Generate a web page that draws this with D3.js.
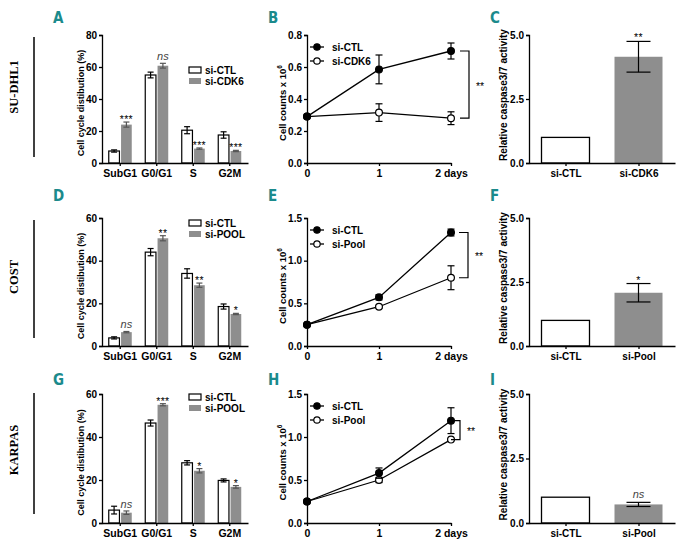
<!DOCTYPE html>
<html><head><meta charset="utf-8">
<script src="https://cdn.jsdelivr.net/npm/d3@7"></script>
<style>
body{margin:0;background:#fff;}
svg text{font-family:"Liberation Sans",Arial,sans-serif;}
</style></head>
<body><svg id="c" width="684" height="546"></svg>
<script>
// ---------- DATA ----------
const cycleCats = ["SubG1","G0/G1","S","G2M"];
const aLegend = ["si-CTL","si-CDK6"];
const aCtl = [7.5,55,20.5,17.5], aCtlErr = [0.7,1.8,2.2,2];
const aKd  = [24,60.8,9,7.5],    aKdErr  = [1.6,1.5,0.4,0.4];
const aSig = ["***","ns","***","***"];
const aTicks = [0,20,40,60,80];

const dLegend = ["si-CTL","si-POOL"];
const dCtl = [3.8,44,34,18.5],  dCtlErr = [0.5,1.7,2.2,1.2];
const dKd  = [6.5,50.5,28.5,15], dKdErr = [0.3,1.2,1,0.3];
const dSig = ["ns","**","**","*"];
const dTicks = [0,20,40,60];

const gLegend = ["si-CTL","si-POOL"];
const gCtl = [6,46.5,28,19.8],  gCtlErr = [1.8,1.4,1,0.7];
const gKd  = [4.8,55,24.3,16.8], gKdErr = [0.8,0.5,1,0.6];
const gSig = ["ns","***","*","*"];
const gTicks = [0,20,40,60];

const days = [0,1,2];
const dayLabels = ["0","1","2 days"];
const bLegend = ["si-CTL","si-CDK6"];
const bCtl = [0.29,0.585,0.70], bCtlErr = [0,0.09,0.05];
const bKd  = [0.29,0.315,0.28], bKdErr  = [0,0.055,0.04];
const bTicks = [0,0.2,0.4,0.6,0.8];
const eLegend = ["si-CTL","si-Pool"];
const eCtl = [0.25,0.57,1.33], eCtlErr = [0,0.03,0.04];
const eKd  = [0.25,0.46,0.80], eKdErr  = [0,0.015,0.14];
const eTicks = [0,0.5,1.0,1.5];
const hLegend = ["si-CTL","si-Pool"];
const hCtl = [0.25,0.58,1.19], hCtlErr = [0,0.06,0.15];
const hKd  = [0.25,0.50,0.97], hKdErr  = [0,0.03,0.01];
const hTicks = [0,0.5,1.0,1.5];

const cCats = ["si-CTL","si-CDK6"], cVals = [1,4.15], cErr = [0,0.6], cSig = "**";
const fCats = ["si-CTL","si-Pool"], fVals = [1,2.08], fErr = [0,0.36], fSig = "*";
const iCats = ["si-CTL","si-Pool"], iVals = [1,0.72], iErr = [0,0.08], iSig = "ns";
const casTicks = [0,2.5,5.0];

const rowLabels = ["SU-DHL1","COST","KARPAS"];
const panelLetters = ["A","B","C","D","E","F","G","H","I"];

// ---------- LAYOUT ----------
const svg = d3.select("#c");
svg.append("rect").attr("width",684).attr("height",546).attr("fill","#fff");
const rows = [ {top:35,bot:163}, {top:218,bot:346}, {top:394,bot:523} ];
const GRAY = "#8e8e8e", TEAL = "#1b8a8c";
const FS = 10;

function styleAxis(g){
  g.selectAll("path,line").attr("stroke","#000").attr("stroke-width",1.3);
  g.selectAll("text").attr("fill","#000").attr("font-weight","bold").attr("font-size",FS+"px")
   .style("font-family",'"Liberation Sans",Arial,sans-serif');
}
function yTitle(x, yc, txt, fs){
  return svg.append("text").attr("transform",`translate(${x},${yc}) rotate(-90)`)
    .attr("text-anchor","middle").attr("font-size",(fs||9)+"px").attr("font-weight","bold").text(txt);
}
function sigText(x, y, s){
  const t = svg.append("text").attr("x",x).attr("text-anchor","middle");
  if(s==="ns"){ t.attr("y",y-3).attr("font-style","italic").attr("font-size","11px").attr("fill","#444").text("ns"); }
  else { t.attr("y",y+1).attr("font-size","10.5px").attr("fill","#000").attr("letter-spacing","0.3px").text(s); }
}
function errBar(x, v, e, y, cap, color){
  if(e<=0) return;
  const g = svg.append("g").attr("stroke",color).attr("stroke-width",1.2);
  g.append("line").attr("x1",x).attr("x2",x).attr("y1",y(v-e)).attr("y2",y(v+e));
  g.append("line").attr("x1",x-cap/2).attr("x2",x+cap/2).attr("y1",y(v+e)).attr("y2",y(v+e));
  g.append("line").attr("x1",x-cap/2).attr("x2",x+cap/2).attr("y1",y(v-e)).attr("y2",y(v-e));
}

// ---------- CELL CYCLE BAR PANELS ----------
function cyclePanel(r, ctl, ctlErr, kd, kdErr, sig, ticks, legend, legTop){
  const y = d3.scaleLinear().domain([0, ticks[ticks.length-1]]).range([r.bot, r.top]);
  const x = d3.scaleBand().domain(cycleCats).range([102,248]);
  const inner = d3.scaleBand().domain(["ctl","kd"]).range([x.bandwidth()/2-11.5, x.bandwidth()/2+11.5]).paddingInner(0.13);
  cycleCats.forEach((c,i)=>{
    const x0 = x(c)+inner("ctl"), x1 = x(c)+inner("kd"), w = inner.bandwidth();
    svg.append("rect").attr("x",x0).attr("y",y(ctl[i])).attr("width",w).attr("height",y(0)-y(ctl[i]))
      .attr("fill","#fff").attr("stroke","#000").attr("stroke-width",1.2);
    svg.append("rect").attr("x",x1).attr("y",y(kd[i])).attr("width",w).attr("height",y(0)-y(kd[i]))
      .attr("fill",GRAY);
    errBar(x0+w/2, ctl[i], ctlErr[i], y, 6, "#000");
    errBar(x1+w/2, kd[i], kdErr[i], y, 6, "#555");
    sigText(x1+w/2, y(kd[i]+kdErr[i]), sig[i]);
  });
  const ya = svg.append("g").attr("transform","translate(102,0)")
    .call(d3.axisLeft(y).tickValues(ticks).tickSize(3).tickPadding(2).tickFormat(d3.format("d")));
  styleAxis(ya);
  const xa = svg.append("g").attr("transform",`translate(0,${r.bot})`)
    .call(d3.axisBottom(x).tickSize(3).tickPadding(4).tickSizeOuter(0));
  styleAxis(xa); xa.selectAll("text").attr("font-size","10.5px");
  yTitle(84, (r.top+r.bot)/2+4, "Cell cycle distibution (%)", 9);
  // legend
  legend.forEach((l,i)=>{
    const yy = legTop + i*11;
    svg.append("rect").attr("x",189).attr("y",yy-3).attr("width",12).attr("height",6)
      .attr("fill", i===0?"#fff":GRAY).attr("stroke", i===0?"#000":"none").attr("stroke-width",1.2);
    svg.append("text").attr("x",205).attr("y",yy+3.5).attr("font-size","10px").attr("font-weight","bold").text(l);
  });
}

// ---------- GROWTH LINE PANELS ----------
function linePanel(r, ctl, ctlErr, kd, kdErr, ticks, legend, brX){
  const y = d3.scaleLinear().domain([0, ticks[ticks.length-1]]).range([r.bot, r.top]);
  const x = d3.scaleLinear().domain([0,2]).range([307,451]);
  const ya = svg.append("g").attr("transform","translate(307,0)")
    .call(d3.axisLeft(y).tickValues(ticks).tickSize(3).tickPadding(2).tickFormat(d3.format(".1f")));
  styleAxis(ya);
  const xa = svg.append("g").attr("transform",`translate(0,${r.bot})`)
    .call(d3.axisBottom(x).tickValues(days).tickSize(3).tickPadding(4).tickSizeOuter(0).tickFormat((d,i)=>dayLabels[i]));
  styleAxis(xa); xa.selectAll("text").attr("font-size","10.5px");
  const line = d3.line().x((d,i)=>x(days[i])).y(d=>y(d));
  [[kd,kdErr,false],[ctl,ctlErr,true]].forEach(([v,e,filled])=>{
    svg.append("path").attr("d",line(v)).attr("fill","none").attr("stroke","#000").attr("stroke-width",1.3);
    v.forEach((d,i)=>errBar(x(days[i]), d, e[i], y, 7, "#000"));
    v.forEach((d,i)=>svg.append("circle").attr("cx",x(days[i])).attr("cy",y(d)).attr("r",3.4)
      .attr("fill",filled?"#000":"#fff").attr("stroke","#000").attr("stroke-width",1.2));
  });
  // bracket
  const y1 = y(ctl[2]), y2 = y(kd[2]);
  svg.append("path").attr("d",`M${brX-9},${y1}H${brX}V${y2}H${brX-9}`).attr("fill","none")
    .attr("stroke","#000").attr("stroke-width",1.2);
  svg.append("text").attr("x",brX+11).attr("y",(y1+y2)/2+5).attr("text-anchor","middle")
    .attr("font-size","10.5px").attr("fill","#000").text("**");
  // y title
  const t = svg.append("text").attr("transform",`translate(286,${(r.top+r.bot)/2+4}) rotate(-90)`)
    .attr("text-anchor","middle").attr("font-size","9.5px").attr("font-weight","bold");
  t.append("tspan").text("Cell counts x 10");
  t.append("tspan").attr("font-size","6.5px").attr("dy","-4").text("6");
  // legend
  legend.forEach((l,i)=>{
    const yy = r.top + 12 + i*14;
    svg.append("line").attr("x1",310).attr("x2",324).attr("y1",yy).attr("y2",yy).attr("stroke","#000").attr("stroke-width",1.3);
    svg.append("circle").attr("cx",317).attr("cy",yy).attr("r",3.2).attr("fill",i===0?"#000":"#fff")
      .attr("stroke","#000").attr("stroke-width",1.2);
    svg.append("text").attr("x",332).attr("y",yy+3.5).attr("font-size","10px").attr("font-weight","bold").text(l);
  });
}

// ---------- CASPASE PANELS ----------
function casPanel(r, cats, vals, err, sig){
  const y = d3.scaleLinear().domain([0,5]).range([r.bot, r.top]);
  const x = d3.scalePoint().domain(cats).range([529,675]).padding(0.5);
  cats.forEach((c,i)=>{
    svg.append("rect").attr("x",x(c)-24).attr("y",y(vals[i])).attr("width",48).attr("height",y(0)-y(vals[i]))
      .attr("fill",i===0?"#fff":GRAY).attr("stroke",i===0?"#000":"none").attr("stroke-width",1.3);
    errBar(x(c), vals[i], err[i], y, 24, "#000");
  });
  const last = cats.length-1;
  sigText(x(cats[last]), y(vals[last]+err[last])-1, sig);
  const ya = svg.append("g").attr("transform","translate(529,0)")
    .call(d3.axisLeft(y).tickValues(casTicks).tickSize(3).tickPadding(2).tickFormat(d3.format(".1f")));
  styleAxis(ya);
  const xa = svg.append("g").attr("transform",`translate(0,${r.bot})`)
    .call(d3.axisBottom(x).tickSize(3).tickPadding(4).tickSizeOuter(0));
  styleAxis(xa);
  yTitle(507, (r.top+r.bot)/2-4, "Relative caspase3/7 activity", 10);
}

cyclePanel(rows[0], aCtl, aCtlErr, aKd, aKdErr, aSig, aTicks, aLegend, 70);
cyclePanel(rows[1], dCtl, dCtlErr, dKd, dKdErr, dSig, dTicks, dLegend, 223);
cyclePanel(rows[2], gCtl, gCtlErr, gKd, gKdErr, gSig, gTicks, gLegend, 397);
linePanel(rows[0], bCtl, bCtlErr, bKd, bKdErr, bTicks, bLegend, 469);
linePanel(rows[1], eCtl, eCtlErr, eKd, eKdErr, eTicks, eLegend, 468);
linePanel(rows[2], hCtl, hCtlErr, hKd, hKdErr, hTicks, hLegend, 460);
casPanel(rows[0], cCats, cVals, cErr, cSig);
casPanel(rows[1], fCats, fVals, fErr, fSig);
casPanel(rows[2], iCats, iVals, iErr, iSig);

// row labels and side lines
const rowCenters = [87,277,450];
const sideLines = [[37,157],[220,338],[393,514]];
rowLabels.forEach((l,i)=>{
  svg.append("text").attr("transform",`translate(18,${rowCenters[i]}) rotate(-90)`)
    .attr("text-anchor","middle").attr("font-size","12.5px").attr("font-weight","bold")
    .style("font-family",'"Liberation Serif","Times New Roman",serif').text(l);
  svg.append("line").attr("x1",34).attr("x2",34).attr("y1",sideLines[i][0]).attr("y2",sideLines[i][1])
    .attr("stroke","#000").attr("stroke-width",1.5);
});
// panel letters
const letterX = [53,268,490], letterY = [23,201,385];
panelLetters.forEach((l,i)=>{
  svg.append("text").attr("x",letterX[i%3]).attr("y",letterY[Math.floor(i/3)])
    .attr("font-size","15px").attr("font-weight","bold").attr("fill",TEAL)
    .style("font-family",'"DejaVu Sans Condensed","DejaVu Sans",sans-serif').text(l);
});
</script></body></html>
